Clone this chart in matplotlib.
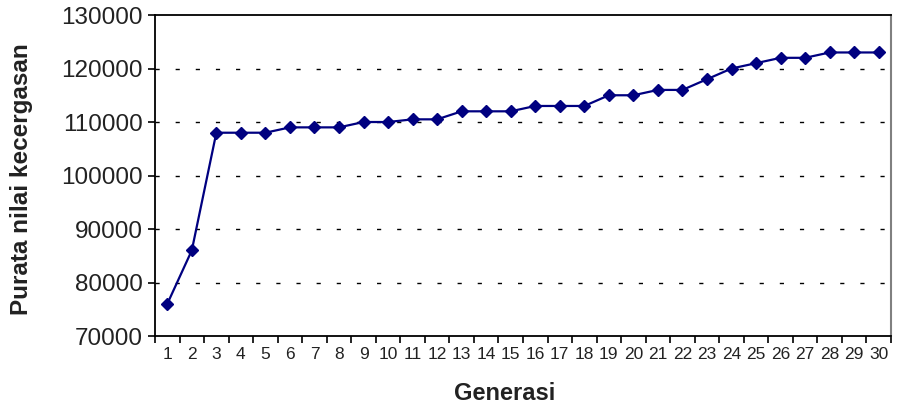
import matplotlib.pyplot as plt
import numpy as np

plt.rcParams['font.family'] = ['Liberation Sans', 'DejaVu Sans']

# generasi 1..30 and average fitness value
generasi = list(range(1, 31))
purata = [76000, 86000, 108000, 108000, 108000, 109000, 109000, 109000, 110000, 110000,
          110500, 110500, 112000, 112000, 112000, 113000, 113000, 113000, 115000, 115000,
          116000, 116000, 118000, 120000, 121000, 122000, 122000, 123000, 123000, 123000]
yticks = [70000, 80000, 90000, 100000, 110000, 120000, 130000]

fig = plt.figure(figsize=(8.97, 4.07), dpi=100)
ax = fig.add_axes([0.1728, 0.1744, 0.8205, 0.7887])

x = np.arange(len(generasi))
ax.plot(x, purata, color='#000080', lw=1.6, marker='D', ms=6.5, zorder=3)

ax.set_xlim(-0.5, len(generasi) - 0.5)
ax.set_ylim(70000, 130000)

# categories centred between tick marks (excel style)
ax.set_xticks(x)
ax.set_xticklabels([str(g) for g in generasi], fontsize=12.5, color='#222222')
ax.set_xticks(np.arange(-0.5, len(generasi)), minor=True)
ax.tick_params(axis='x', which='major', length=0, pad=8)
ax.tick_params(axis='x', which='minor', length=5, width=1.2, color='black')

ax.set_yticks(yticks)
ax.set_yticklabels([str(v) for v in yticks], fontsize=17.5, color='#222222')
ax.tick_params(axis='y', length=5, width=1.2, pad=4)

for v in yticks[1:-1]:
    ax.axhline(v, color='black', lw=1.0, dashes=(3, 11.5), zorder=1)

for s in ['left', 'bottom', 'top']:
    ax.spines[s].set_color('black')
    ax.spines[s].set_linewidth(1.3)
ax.spines['right'].set_color('#808080')
ax.spines['right'].set_linewidth(1.5)

ax.set_xlabel('Generasi', fontsize=17, fontweight='bold', color='#222222', va='center')
ax.set_ylabel('Purata nilai kecergasan', fontsize=17.5, fontweight='bold', color='#222222', va='center')
ax.xaxis.set_label_coords(0.4755, -0.178)
ax.yaxis.set_label_coords(-0.181, 0.489)

fig.savefig('out.png', dpi=100)
